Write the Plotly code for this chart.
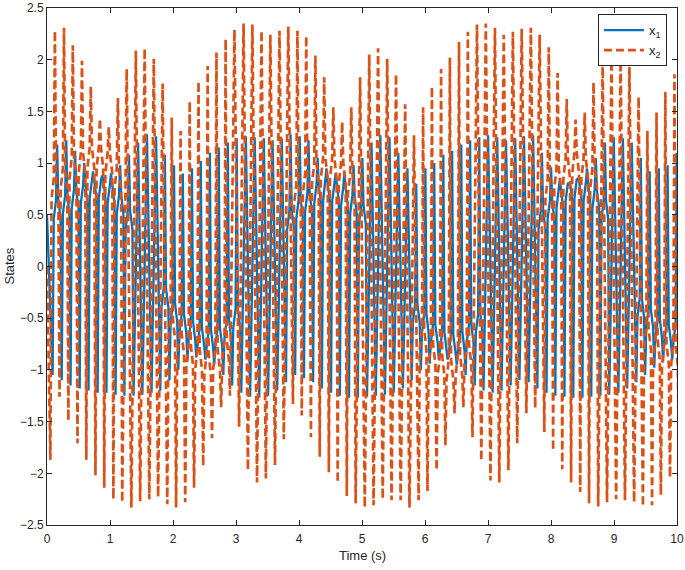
import plotly.graph_objects as go

# ---- data ----
t_peak = [0.125, 0.27, 0.41, 0.555, 0.695, 0.84, 0.98, 1.125, 1.265, 1.41,
          1.55, 1.695, 1.835, 1.98, 2.12, 2.265, 2.405, 2.55, 2.69, 2.835,
          2.975, 3.12, 3.26, 3.405, 3.545, 3.69, 3.83, 3.975, 4.115, 4.26,
          4.40, 4.545, 4.685, 4.83, 4.97, 5.115, 5.255, 5.40, 5.54, 5.685,
          5.825, 5.97, 6.11, 6.255, 6.395, 6.54, 6.68, 6.825, 6.965, 7.11,
          7.25, 7.395, 7.535, 7.68, 7.82, 7.965, 8.105, 8.25, 8.39, 8.535,
          8.675, 8.82, 8.96, 9.105, 9.245, 9.39, 9.53, 9.675, 9.815, 9.96]

x2_peaks = [2.28, 2.31, 2.14, 1.99, 1.74, 1.43, 1.35, 1.63, 1.91, 2.09,
            2.11, 2.01, 1.77, 1.44, 1.31, 1.60, 1.79, 1.94, 2.07, 2.20,
            2.29, 2.35, 2.34, 2.28, 2.24, 2.28, 2.32, 2.28, 2.23, 2.04,
            1.83, 1.54, 1.40, 1.54, 1.83, 2.05, 2.11, 2.01, 1.86, 1.57,
            1.27, 1.54, 1.74, 1.91, 2.02, 2.17, 2.27, 2.34, 2.35, 2.31,
            2.24, 2.27, 2.30, 2.31, 2.24, 2.12, 1.87, 1.62, 1.42, 1.49,
            1.78, 1.99, 2.05, 2.05, 1.93, 1.64, 1.31, 1.49, 1.69, 1.86]

x2_troughs = [-1.87, -1.26, -1.49, -1.71, -1.87, -2.02, -2.14, -2.25, -2.28, -2.33,
              -2.27, -2.25, -2.23, -2.30, -2.33, -2.28, -2.14, -1.93, -1.66, -1.36,
              -1.25, -1.55, -1.97, -2.09, -2.05, -1.92, -1.67, -1.33, -1.44, -1.65,
              -1.84, -1.99, -2.09, -2.22, -2.29, -2.33, -2.31, -2.25, -2.26, -2.26,
              -2.33, -2.26, -2.17, -1.97, -1.73, -1.42, -1.36, -1.65, -1.88, -2.07,
              -2.09, -1.97, -1.71, -1.42, -1.37, -1.60, -1.78, -1.96, -2.09, -2.18,
              -2.29, -2.32, -2.28, -2.25, -2.26, -2.28, -2.32, -2.31, -2.21, -2.04,
              -1.70]

x1_tops = [1.18, 1.22, 1.12, 1.00, 0.92, 0.88, 0.90, 0.98, 1.08, 1.20,
           1.28, 1.26, 1.08, 0.98, 0.90, 0.95, 1.02, 1.10, 1.15, 1.20,
           1.24, 1.26, 1.25, 1.24, 1.22, 1.24, 1.28, 1.26, 1.22, 1.05,
           0.95, 0.90, 0.92, 0.98, 1.05, 1.20, 1.27, 1.25, 1.10, 0.95,
           0.80, 0.95, 1.00, 1.08, 1.12, 1.18, 1.22, 1.25, 1.27, 1.25,
           1.22, 1.24, 1.26, 1.27, 1.10, 0.96, 0.85, 0.78, 0.85, 0.95,
           1.05, 1.20, 1.25, 1.24, 1.20, 1.05, 0.92, 0.95, 0.98, 1.10]

x1_bottoms = [-1.05, -1.10, -1.15, -1.18, -1.20, -1.22, -1.22, -1.24, -1.25, -1.25,
              -1.24, -1.22, -1.20, -1.10, -1.00, -0.92, -0.88, -0.90, -0.95, -1.05,
              -1.15, -1.22, -1.26, -1.27, -1.25, -1.20, -1.12, -1.05, -1.08, -1.12,
              -1.18, -1.22, -1.25, -1.27, -1.27, -1.26, -1.25, -1.24, -1.22, -1.18,
              -1.10, -1.00, -0.94, -0.90, -0.90, -0.95, -1.05, -1.15, -1.20, -1.22,
              -1.20, -1.15, -1.10, -1.12, -1.18, -1.22, -1.25, -1.26, -1.27, -1.27,
              -1.26, -1.25, -1.24, -1.22, -1.18, -1.12, -1.05, -0.98, -0.92, -0.90]

# slow levels where the strokes crowd together (None = no visible band)
x1_band = [0.55, 0.60, 0.65, 0.70, 0.75, 0.75, 0.70, 0.60, 0.45, None,
           None, None, -0.30, -0.45, -0.55, -0.62, -0.68, -0.70, -0.68, -0.60,
           -0.50, None, None, None, None, None, 0.45, 0.55, 0.62, 0.70,
           0.72, 0.72, 0.68, 0.60, 0.50, None, None, None, None, None,
           -0.45, -0.55, -0.65, -0.72, -0.75, -0.72, -0.65, -0.55, None, None,
           None, None, None, None, 0.45, 0.55, 0.65, 0.72, 0.75, 0.72,
           0.65, 0.55, None, None, None, -0.40, -0.50, -0.60, -0.65, -0.65]

x2_band = [0.75, 0.85, 0.95, 1.00, 1.05, 1.05, 1.00, 0.85, None, None,
           None, None, None, -0.60, -0.75, -0.85, -0.90, -0.95, -0.90, -0.80,
           None, None, None, None, None, None, None, 0.70, 0.80, 0.90,
           0.95, 0.95, 0.90, 0.80, None, None, None, None, None, None,
           None, -0.70, -0.85, -0.95, -1.00, -0.95, -0.85, None, None, None,
           None, None, None, None, None, 0.75, 0.85, 0.95, 1.00, 0.95,
           0.85, None, None, None, None, None, -0.70, -0.80, -0.85, -0.85]

x1_start = 0.5
x2_start = 0.0
t_end_trough = 10.03

# ---- build the traces from the extremes ----
half = 0.071
quarter = 0.036


def add_band(ts, ys, t_from, t_to, level, rising, spread):
    if level is None:
        return
    s = spread if rising else -spread
    ts += [t_from + 0.25 * (t_to - t_from), t_from + 0.75 * (t_to - t_from)]
    ys += [level - s, level + s]


n = len(t_peak)

# x2: trough, (band), peak, (band), trough ...
t2 = [0.0]
y2 = [x2_start]
for k in range(n):
    ta = t_peak[k] - half
    tb = t_peak[k]
    t2.append(ta)
    y2.append(x2_troughs[k])
    add_band(t2, y2, ta, tb, x2_band[k], True, 0.10)
    t2.append(tb)
    y2.append(x2_peaks[k])
    tc = t_peak[k + 1] - half if k + 1 < n else t_end_trough
    add_band(t2, y2, tb, tc, x2_band[k], False, 0.10)
t2.append(t_end_trough)
y2.append(x2_troughs[-1])

# x1: trough, (band), peak, (band), trough ...
t1 = [0.0]
y1 = [x1_start]
for k in range(n):
    ta = t_peak[k] - quarter
    tb = t_peak[k] + quarter
    t1.append(ta)
    y1.append(x1_bottoms[k])
    add_band(t1, y1, ta, tb, x1_band[k], True, 0.09)
    t1.append(tb)
    y1.append(x1_tops[k])
    if k + 1 < n:
        add_band(t1, y1, tb, t_peak[k + 1] - quarter, x1_band[k], False, 0.09)

fig = go.Figure()
fig.add_trace(go.Scatter(
    x=t1, y=y1, mode="lines", name="x<sub>1</sub>",
    line=dict(color="#0072BD", width=2.3)))
fig.add_trace(go.Scatter(
    x=t2, y=y2, mode="lines", name="x<sub>2</sub>",
    line=dict(color="#D95319", width=2.7, dash="8px,4px")))

axis_common = dict(
    showline=True, linecolor="#262626", linewidth=1, mirror="ticks",
    ticks="inside", ticklen=5, tickcolor="#262626", showgrid=False,
    zeroline=False, automargin=False, ticklabeloverflow="allow",
    tickfont=dict(family="Liberation Sans, Arial", size=12, color="#262626"),
)

fig.update_layout(
    width=685, height=570,
    margin=dict(l=47, r=8, t=8, b=45, autoexpand=False),
    paper_bgcolor="white", plot_bgcolor="white",
    font=dict(family="Liberation Sans, Arial", size=12, color="#262626"),
    xaxis=dict(range=[0, 10], tickmode="linear", tick0=0, dtick=1,
               ticklabelstandoff=3, **axis_common),
    yaxis=dict(range=[-2.5, 2.5], tickmode="linear", tick0=-2.5, dtick=0.5,
               **axis_common),
    legend=dict(x=0.984, y=0.988, xanchor="right", yanchor="top",
                bgcolor="white", bordercolor="#262626", borderwidth=1,
                font=dict(size=13), tracegroupgap=2, itemwidth=40),
    showlegend=True,
    annotations=[
        dict(text="Time (s)", xref="paper", yref="paper", x=0.5, y=0,
             xanchor="center", yanchor="top", yshift=-21, showarrow=False,
             font=dict(size=13, color="#262626")),
        dict(text="States", xref="paper", yref="paper", x=0, y=0.5,
             xanchor="center", yanchor="middle", xshift=-38, textangle=-90,
             showarrow=False, font=dict(size=13, color="#262626")),
    ],
)

# remove the default 8px page margin so the figure sits at the window origin
fig.write_html("out.html", config={"displayModeBar": False},
               post_script="document.body.style.margin='0';document.body.style.padding='0';")
